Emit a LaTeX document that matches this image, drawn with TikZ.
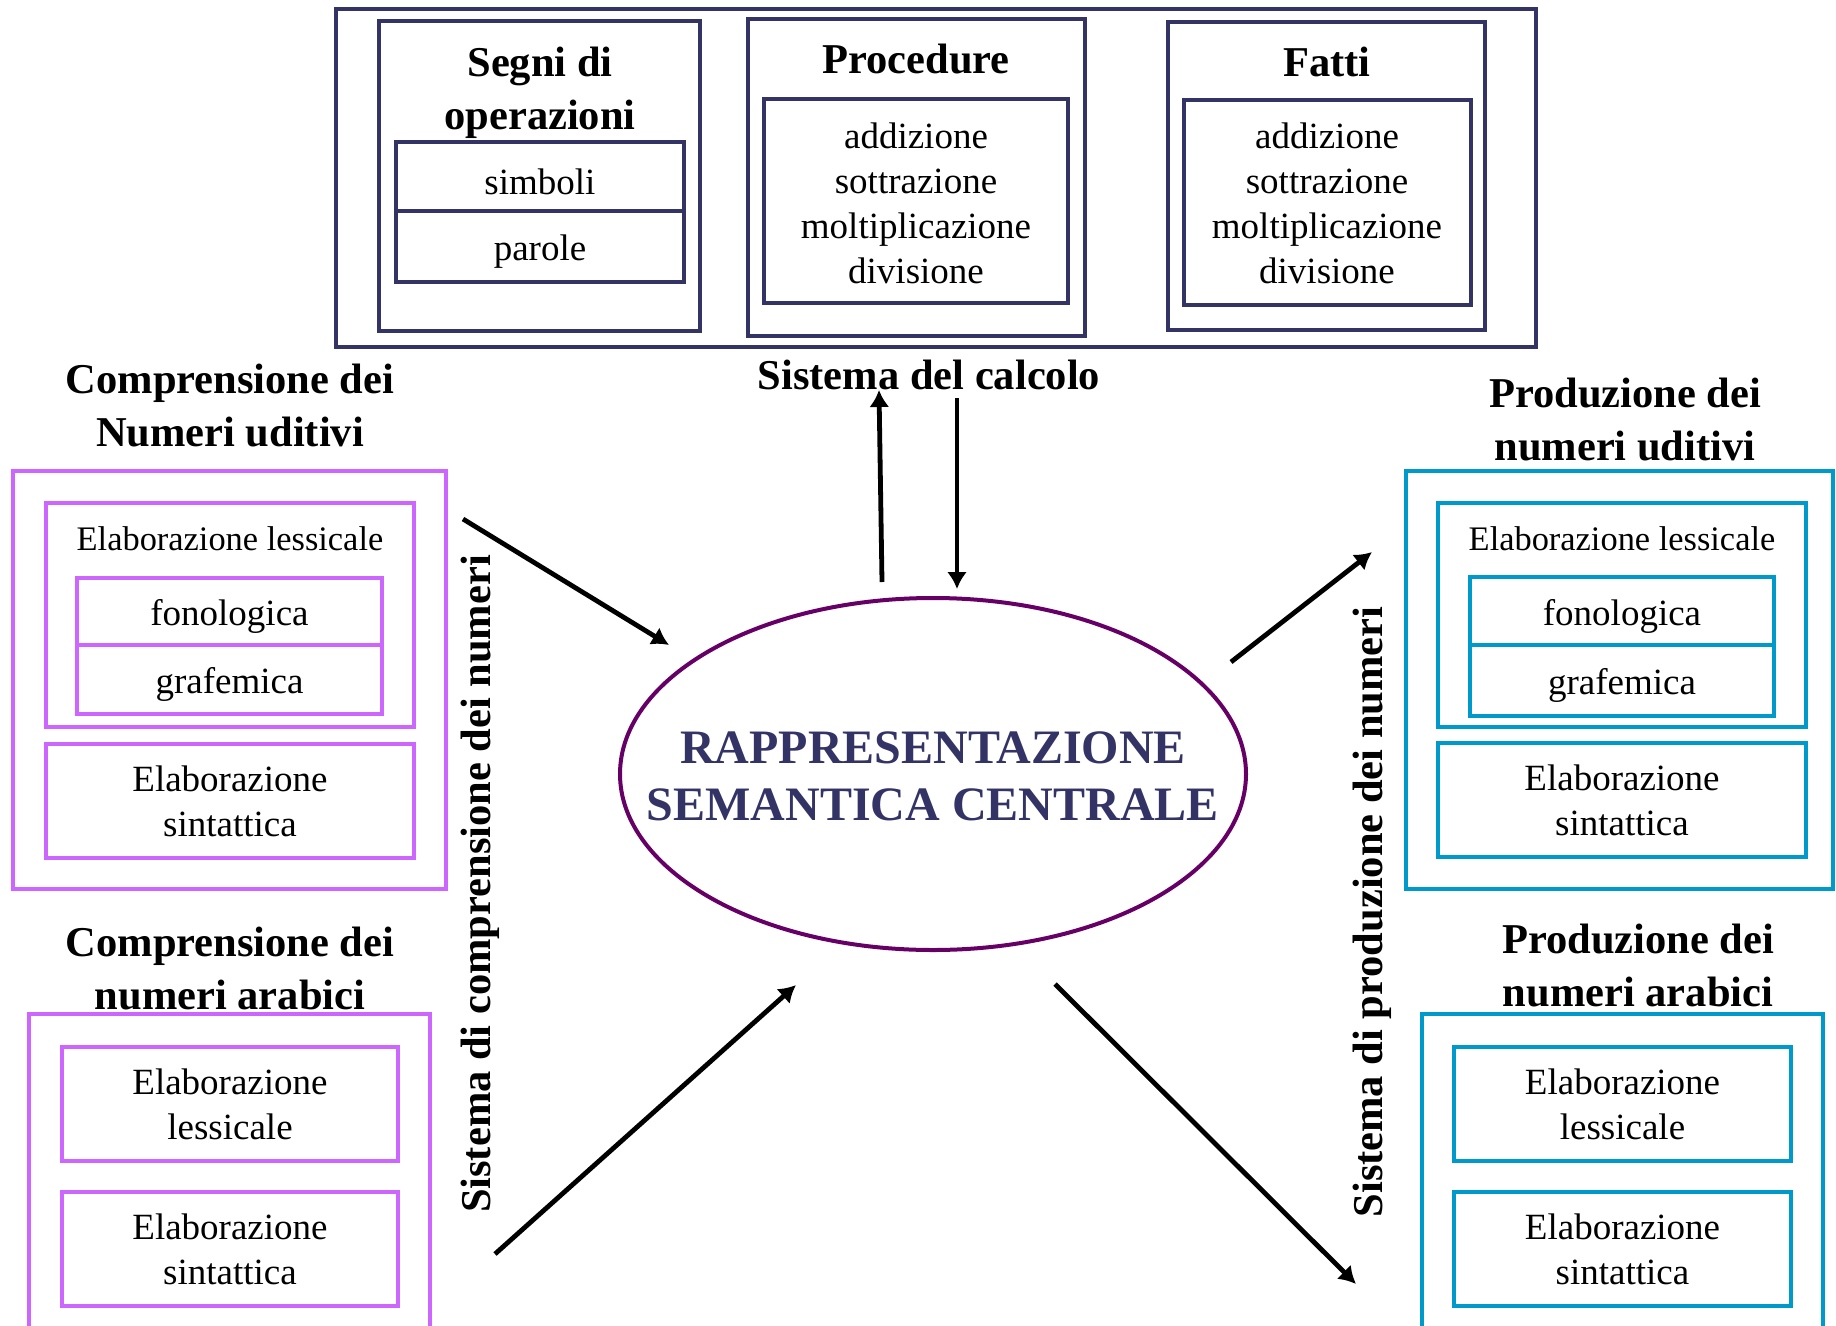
\documentclass[tikz,border=0pt]{standalone}
\usepackage{fontspec}
\setmainfont{Liberation Serif}
\usetikzlibrary{fit,shapes.geometric,arrows.meta}
\definecolor{navy}{HTML}{333366}
\definecolor{viol}{HTML}{CC66FF}
\definecolor{cyanb}{HTML}{0099CC}
\definecolor{plum}{HTML}{660066}
\begin{document}
\begin{tikzpicture}[x=1pt,y=-1pt,
 boxline/.style={draw, line width=4.5pt, inner sep=0pt},
 nbox/.style={boxline, draw=navy},
 vbox/.style={boxline, draw=viol},
 cbox/.style={boxline, draw=cyanb},
 ttl/.style={font=\fontsize{42.5}{53}\selectfont\bfseries, align=center, inner sep=0pt},
 txt/.style={font=\fontsize{37}{45}\selectfont, align=center, inner sep=0pt},
 stxt/.style={font=\fontsize{34.4}{40}\selectfont, inner sep=0pt},
 low/.style={yshift=-5pt},
 arr/.style={line width=4.8pt, -{Latex[length=17pt,width=20pt]}}
]
\useasboundingbox (0,0) rectangle (1836,1325);
\clip (0,0) rectangle (1836,1325);

% ---------- Sistema del calcolo ----------
\node[nbox, fit={(336,9) (1536,347)}] (calc) {};
\node[nbox, fit={(379,21) (700,331)}] (segni) {};
\node[ttl] (segnit) at (540,93) {Segni di\\operazioni};
\node[nbox, fit={(396,142) (684,211)}] (simb) {};
\node[txt, low] at (simb) {simboli};
\node[nbox, fit={(396,211) (684,282)}] (parole) {};
\node[txt, low] at (parole) {parole};

\node[nbox, fit={(748,19) (1085,336)}] (proc) {};
\node[ttl] (proct) at (916,59) {Procedure};
\node[nbox, fit={(764,99) (1068,303)}] (procin) {};
\node[txt] (proctx) at (916,203) {addizione\\sottrazione\\moltiplicazione\\divisione};

\node[nbox, fit={(1168,22) (1485,330)}] (fatti) {};
\node[ttl] (fattit) at (1327,62) {Fatti};
\node[nbox, fit={(1184,100) (1471,305)}] (fattiin) {};
\node[txt] (fattitx) at (1327,203) {addizione\\sottrazione\\moltiplicazione\\divisione};

\node[ttl] (calct) at (929,375) {Sistema del calcolo};

% ---------- central ellipse ----------
\node[ellipse, draw=plum, line width=4pt, minimum width=626pt, minimum height=352pt, inner sep=0pt] (sem) at (933,774) {};
\node[font=\fontsize{48}{57}\selectfont\bfseries, text=navy, align=center, inner sep=0pt] (semt) at (933,776) {RAPPRESENTAZIONE\\SEMANTICA CENTRALE};

% ---------- left upper ----------
\node[ttl] (cut) at (230,406) {Comprensione dei\\Numeri uditivi};
\node[vbox, fit={(13,471) (446,889)}] (lu) {};
\node[vbox, fit={(46,503) (414,727)}] (lulex) {};
\node[stxt] at (230,539) {Elaborazione lessicale};
\node[vbox, fit={(77,578) (382,645)}] (lufon) {};
\node[txt, low] at (lufon) {fonologica};
\node[vbox, fit={(77,645) (382,714)}] (lugraf) {};
\node[txt, low] at (lugraf) {grafemica};
\node[vbox, fit={(46,744) (414,858)}] (lusin) {};
\node[txt] at (lusin) {Elaborazione\\sintattica};

% ---------- left lower ----------
\node[ttl] (cat) at (230,969) {Comprensione dei\\numeri arabici};
\node[vbox, fit={(29,1014) (430,1345)}] (ll) {};
\node[vbox, fit={(62,1047) (398,1161)}] (lllex) {};
\node[txt] at (lllex) {Elaborazione\\lessicale};
\node[vbox, fit={(62,1192) (398,1306)}] (llsin) {};
\node[txt] at (llsin) {Elaborazione\\sintattica};

% ---------- right upper ----------
\node[ttl] (put) at (1625,420) {Produzione dei\\numeri uditivi};
\node[cbox, fit={(1406,471) (1833,889)}] (ru) {};
\node[cbox, fit={(1438,503) (1806,727)}] (rulex) {};
\node[stxt] at (1622,539) {Elaborazione lessicale};
\node[cbox, fit={(1470,577) (1774,645)}] (rufon) {};
\node[txt, low] at (rufon) {fonologica};
\node[cbox, fit={(1470,645) (1774,716)}] (rugraf) {};
\node[txt, low] at (rugraf) {grafemica};
\node[cbox, fit={(1438,743) (1806,857)}] (rusin) {};
\node[txt] at (rusin) {Elaborazione\\sintattica};

% ---------- right lower ----------
\node[ttl] (pat) at (1638,966) {Produzione dei\\numeri arabici};
\node[cbox, fit={(1422,1014) (1823,1345)}] (rl) {};
\node[cbox, fit={(1454,1047) (1791,1161)}] (rllex) {};
\node[txt] at (rllex) {Elaborazione\\lessicale};
\node[cbox, fit={(1454,1192) (1791,1306)}] (rlsin) {};
\node[txt] at (rlsin) {Elaborazione\\sintattica};

% ---------- vertical labels ----------
\node[ttl, rotate=90] (sc) at (480,884) {Sistema di comprensione dei numeri};
\node[ttl, rotate=90] (sp) at (1372,912) {Sistema di produzione dei numeri};

% ---------- arrows ----------
\coordinate (upS) at (882,582);
\coordinate (upE) at (879,390);
\coordinate (dnS) at (957,398);
\coordinate (dnE) at (957,589);
\coordinate (a1s) at (463,519);
\coordinate (a1e) at (669,645);
\coordinate (a2s) at (495,1254);
\coordinate (a2e) at (796,985);
\coordinate (a3s) at (1231,662);
\coordinate (a3e) at (1372,552);
\coordinate (a4s) at (1055,984);
\coordinate (a4e) at (1356,1284);
\draw[arr] (upS) -- (upE);
\draw[arr] (dnS) -- (dnE);
\draw[arr] (a1s) -- (a1e);
\draw[arr] (a2s) -- (a2e);
\draw[arr] (a3s) -- (a3e);
\draw[arr] (a4s) -- (a4e);
\end{tikzpicture}
\end{document}
